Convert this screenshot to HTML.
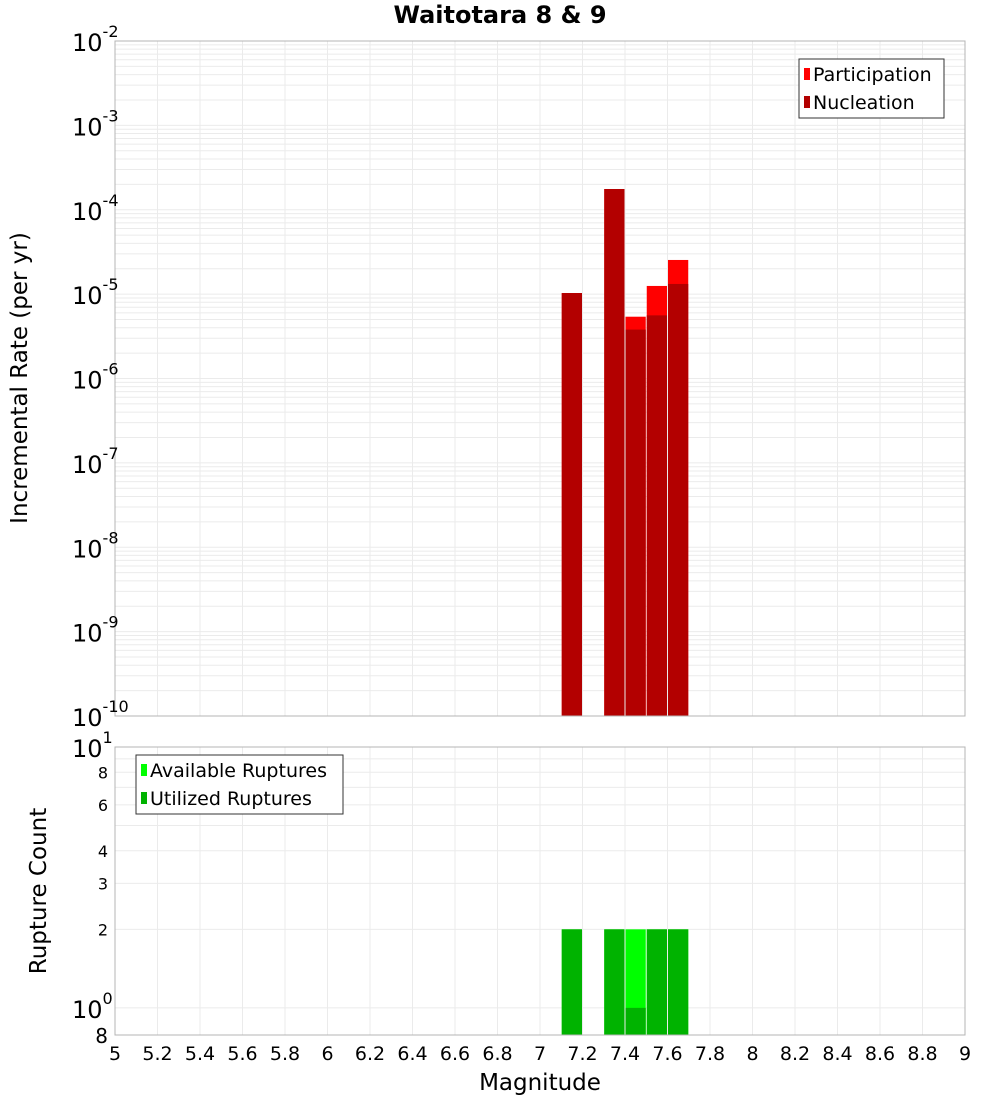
<!DOCTYPE html>
<html><head><meta charset="utf-8"><style>
body{margin:0;background:#fff;font-family:"Liberation Sans","DejaVu Sans",sans-serif}
svg text{font-family:"DejaVu Sans","Liberation Sans",sans-serif}
</style></head><body>
<svg id="c" width="1000" height="1100" xmlns="http://www.w3.org/2000/svg"></svg>
<script>
const mags=[7.15,7.35,7.45,7.55,7.65];
const participation=[1.03e-5,1.76e-4,5.4e-6,1.25e-5,2.54e-5];
const nucleation=[1.03e-5,1.76e-4,3.8e-6,5.6e-6,1.32e-5];
const available=[2,2,2,2,2];
const utilized=[2,2,1,2,2];
const xTicks=[5,5.2,5.4,5.6,5.8,6,6.2,6.4,6.6,6.8,7,7.2,7.4,7.6,7.8,8,8.2,8.4,8.6,8.8,9];
const topExps=[-2,-3,-4,-5,-6,-7,-8,-9,-10];
const botTicks=[2,3,4,6,8];

const S=document.getElementById('c'),NS='http://www.w3.org/2000/svg';
function el(t,a,p){const e=document.createElementNS(NS,t);for(const k in a)e.setAttribute(k,a[k]);(p||S).appendChild(e);return e;}
const X0=115,X1=965;
const x=m=>X0+(m-5)/(9-5)*(X1-X0);
const T0=41,T1=716;
const yT=v=>T0+(-2-Math.log10(v))/8*(T1-T0);
const B0=747,B1=1035,bMin=0.787;
const yB=v=>B0+(1-Math.log10(v))/(1-Math.log10(bMin))*(B1-B0);

let t=el('text',{x:500,y:23,'text-anchor':'middle','font-size':24,'font-weight':'bold'});t.textContent='Waitotara 8 & 9';


const gT=el('g',{});
for(let e=-10;e<-2;e++)for(let k=1;k<10;k++){const yy=yT(k*Math.pow(10,e));el('line',{x1:X0,x2:X1,y1:yy,y2:yy,stroke:'#ebebeb','stroke-width':1},gT);}
xTicks.forEach(m=>{el('line',{x1:x(m),x2:x(m),y1:T0,y2:T1,stroke:'#ebebeb'},gT);el('line',{x1:x(m),x2:x(m),y1:B0,y2:B1,stroke:'#ebebeb'},gT);});
[1,2,3,4,5,6,7,8,9,10].forEach(v=>{if(v>=bMin){const yy=yB(v);el('line',{x1:X0,x2:X1,y1:yy,y2:yy,stroke:'#ebebeb'},gT);}});

const bw=(x(0.1)-x(0))-1;
mags.forEach((m,i)=>{
 let r=el('rect',{x:x(m)-bw/2,y:yT(participation[i]),width:bw,height:T1-yT(participation[i]),fill:'#ff0000'});
 
 r=el('rect',{x:x(m)-bw/2,y:yT(nucleation[i]),width:bw,height:T1-yT(nucleation[i]),fill:'#b30000'});
 
 r=el('rect',{x:x(m)-bw/2,y:yB(available[i]),width:bw,height:B1-yB(available[i]),fill:'#00ff00'});
 
 r=el('rect',{x:x(m)-bw/2,y:yB(utilized[i]),width:bw,height:B1-yB(utilized[i]),fill:'#00b300'});
 
});
el('rect',{x:X0,y:T0,width:X1-X0,height:T1-T0,fill:'none',stroke:'#b4b4b4'});
el('rect',{x:X0,y:B0,width:X1-X0,height:B1-B0,fill:'none',stroke:'#b4b4b4'});

topExps.forEach(e=>{const yy=yT(Math.pow(10,e));
 const tx=el('text',{x:72,y:yy+10,'font-size':24});tx.textContent='10';
 
 const s=el('tspan',{dy:-14,'font-size':16},tx);s.textContent=String(e);});
t=el('text',{x:0,y:0,'font-size':23,'text-anchor':'middle',transform:'translate(27,378) rotate(-90)'});t.textContent='Incremental Rate (per yr)';


[[10,'1'],[1,'0']].forEach(([v,e])=>{const yy=yB(v);const tx=el('text',{x:72,y:yy+10,'font-size':24});tx.textContent='10';
 
 const s=el('tspan',{dy:-14,'font-size':16},tx);s.textContent=e;});
botTicks.forEach(v=>{const tx=el('text',{x:108,y:yB(v)+6,'font-size':16,'text-anchor':'end'});tx.textContent=v;
 });
t=el('text',{x:108,y:1043,'font-size':20,'text-anchor':'end'});t.textContent='8';
t=el('text',{x:0,y:0,'font-size':23,'text-anchor':'middle',transform:'translate(46,891) rotate(-90)'});t.textContent='Rupture Count';


xTicks.forEach(m=>{const tx=el('text',{x:x(m),y:1060,'font-size':19,'text-anchor':'middle'});tx.textContent=String(m);
 });
t=el('text',{x:540,y:1090,'font-size':23,'text-anchor':'middle'});t.textContent='Magnitude';


function legend(x0,y0,w,h,items,name){const g=el('g',{});
 el('rect',{x:x0,y:y0,width:w,height:h,fill:'#fff',stroke:'#333'},g);
 items.forEach(([c,l],i)=>{el('rect',{x:x0+5,y:y0+9+i*28,width:6,height:12,fill:c},g);
 const tx=el('text',{x:x0+14,y:y0+22+i*28,'font-size':19},g);tx.textContent=l;});}
legend(799,59,145,59,[['#ff0000','Participation'],['#b30000','Nucleation']],'top-legend');
legend(136,755,207,59,[['#00ff00','Available Ruptures'],['#00b300','Utilized Ruptures']],'bottom-legend');
</script>
</body></html>
